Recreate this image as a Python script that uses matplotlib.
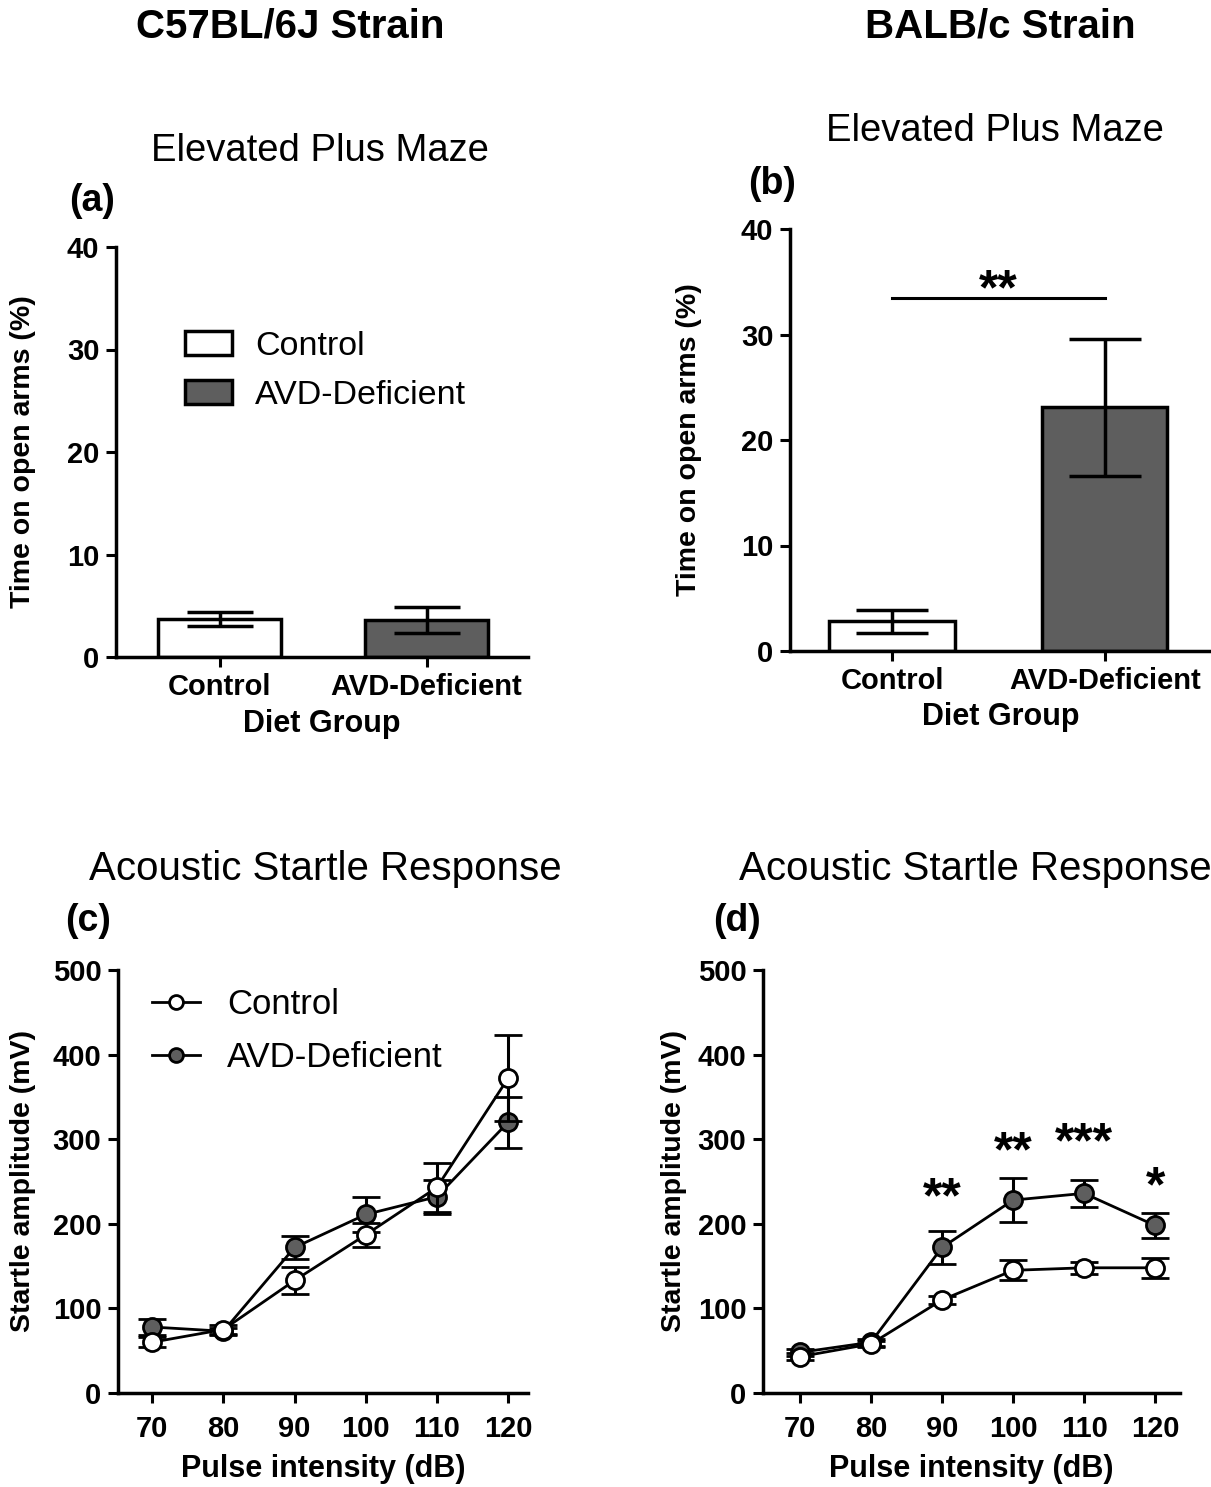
"""Recreate the four-panel EPM / startle figure (C57BL/6J vs BALB/c)."""

import numpy as np
import matplotlib
matplotlib.use('Agg')
import matplotlib.pyplot as plt
from matplotlib.lines import Line2D

plt.rcParams['font.family'] = ['Liberation Sans', 'DejaVu Sans']

# --- data -------------------------------------------------------------
groups = ['Control', 'AVD-Deficient']

# Elevated plus maze, time on open arms (%) : mean and SEM
epm_c57_mean = [3.7, 3.6]
epm_c57_sem = [0.7, 1.25]
epm_balb_mean = [2.8, 23.1]
epm_balb_sem = [1.05, 6.5]
epm_balb_sig_y = 33.5

# Acoustic startle, amplitude (mV)
pulse_db = [70, 80, 90, 100, 110, 120]
asr_c57_ctrl = [60, 75, 133, 187, 243, 372]
asr_c57_ctrl_err = [6, 5, 16, 14, 29, 51]
asr_c57_avd = [78, 73, 172, 211, 232, 320]
asr_c57_avd_err = [10, 4, 14, 21, 20, 30]
asr_balb_ctrl = [43, 58, 110, 145, 148, 148]
asr_balb_ctrl_err = [4, 4, 5, 12, 7, 12]
asr_balb_avd = [48, 60, 172, 228, 236, 198]
asr_balb_avd_err = [4, 4, 19, 26, 16, 15]
asr_balb_stars = ['', '', '**', '**', '***', '*']
asr_balb_star_y = [0, 0, 240, 295, 305, 254]

GRAY = '#5e5e5e'
TICK_FS = 21
YLAB_FS = 20.5
XLAB_FS = 22
STAR_FS = 36
W, H = 1211, 1487

fig = plt.figure(figsize=(W / 100, H / 100), dpi=100)


def style_axis(ax, xpad):
    for s in ['top', 'right']:
        ax.spines[s].set_visible(False)
    for s in ['left', 'bottom']:
        ax.spines[s].set_linewidth(2.5)
    ax.tick_params(direction='out', length=7.5, width=2.2, labelsize=TICK_FS)
    ax.tick_params(axis='y', pad=4.5)
    ax.tick_params(axis='x', pad=xpad)
    for lab in ax.get_xticklabels() + ax.get_yticklabels():
        lab.set_fontweight('bold')


def stars(ax, x, yc, s):
    # centre the asterisks vertically on yc
    ax.annotate(s, xy=(x, yc), xytext=(0, -0.455 * STAR_FS), textcoords='offset points',
                ha='center', va='baseline', fontsize=STAR_FS, fontweight='bold')


def bar_panel(rect, means, sems, xlim, capsize):
    ax = fig.add_axes(rect)
    x = np.arange(len(groups))
    ax.bar(x, means, width=0.59, color=['white', GRAY], edgecolor='black',
           linewidth=2.5, zorder=2)
    ax.errorbar(x, means, yerr=sems, fmt='none', ecolor='black', elinewidth=2.5,
                capsize=capsize, capthick=2.5, zorder=3)
    ax.set_xlim(*xlim)
    ax.set_ylim(0, 40)
    ax.set_yticks([0, 10, 20, 30, 40])
    ax.set_xticks(x)
    ax.set_xticklabels(groups)
    style_axis(ax, 4)
    ax.set_ylabel('Time on open arms (%)', fontsize=YLAB_FS, fontweight='bold')
    ax.set_xlabel('Diet Group', fontsize=XLAB_FS, fontweight='bold')
    return ax


def line_panel(rect, ctrl, ctrl_err, avd, avd_err, xlim):
    ax = fig.add_axes(rect)
    ax.errorbar(pulse_db, avd, yerr=avd_err, color='black', lw=2, marker='o',
                ms=13, mfc=GRAY, mec='black', mew=2, capsize=10, capthick=2.2,
                elinewidth=2.2, zorder=3)
    ax.errorbar(pulse_db, ctrl, yerr=ctrl_err, color='black', lw=2, marker='o',
                ms=13, mfc='white', mec='black', mew=2, capsize=10, capthick=2.2,
                elinewidth=2.2, zorder=4)
    ax.set_xlim(*xlim)
    ax.set_ylim(0, 500)
    ax.set_yticks([0, 100, 200, 300, 400, 500])
    ax.set_xticks(pulse_db)
    style_axis(ax, 8.5)
    ax.set_ylabel('Startle amplitude (mV)', fontsize=YLAB_FS, fontweight='bold')
    ax.set_xlabel('Pulse intensity (dB)', fontsize=XLAB_FS, fontweight='bold')
    return ax


# (a) C57 EPM
ax_a = bar_panel([116 / W, 1 - 657 / H, 412 / W, 410 / H], epm_c57_mean, epm_c57_sem,
                 (-0.5, 1.49), 24)
ax_a.yaxis.set_label_coords(-0.194, 0.5)
ax_a.xaxis.set_label_coords(0.5, -0.127)
ax_a.legend(handles=[plt.Rectangle((0, 0), 1, 1, fc='white', ec='black', lw=2.5),
                     plt.Rectangle((0, 0), 1, 1, fc=GRAY, ec='black', lw=2.5)],
            labels=groups, loc='upper left', bbox_to_anchor=(185 / W, 1 - 331 / H),
            bbox_transform=fig.transFigure, frameon=False, fontsize=24.5,
            borderpad=0, borderaxespad=0, handlelength=1.38, handleheight=0.7,
            handletextpad=0.68, labelspacing=0.52)

# (b) BALB/c EPM
ax_b = bar_panel([790 / W, 1 - 651 / H, 421 / W, 422 / H], epm_balb_mean, epm_balb_sem,
                 (-0.48, 1.5), 26)
ax_b.yaxis.set_label_coords(-0.209, 0.5)
ax_b.xaxis.set_label_coords(0.5, -0.121)
ax_b.plot([0, 1], [epm_balb_sig_y, epm_balb_sig_y], color='black', lw=2.2)
stars(ax_b, 0.5, 35.0, '**')

# (c) C57 startle
ax_c = line_panel([118 / W, 1 - 1393 / H, 410 / W, 423 / H], asr_c57_ctrl,
                  asr_c57_ctrl_err, asr_c57_avd, asr_c57_avd_err, (65.2, 122.8))
ax_c.yaxis.set_label_coords(-0.2, 0.5)
ax_c.xaxis.set_label_coords(0.5, -0.144)
leg_handles = [Line2D([], [], color='black', lw=2, marker='o', ms=10, mfc='white',
                      mec='black', mew=2),
               Line2D([], [], color='black', lw=2, marker='o', ms=10, mfc=GRAY,
                      mec='black', mew=2)]
ax_c.legend(leg_handles, groups, loc='upper left',
            bbox_to_anchor=(152 / W, 1 - 988 / H), bbox_transform=fig.transFigure,
            frameon=False, fontsize=25, borderpad=0, borderaxespad=0,
            handlelength=1.38, handletextpad=0.78, labelspacing=0.58)

# (d) BALB/c startle
ax_d = line_panel([763 / W, 1 - 1393 / H, 417 / W, 423 / H], asr_balb_ctrl,
                  asr_balb_ctrl_err, asr_balb_avd, asr_balb_avd_err, (64.8, 123.5))
ax_d.yaxis.set_label_coords(-0.182, 0.5)
ax_d.xaxis.set_label_coords(0.5, -0.144)
for xv, s, yv in zip(pulse_db, asr_balb_stars, asr_balb_star_y):
    if s:
        stars(ax_d, xv, yv, s)

# headings and panel titles
fig.text(290 / W, 1 - 27 / H, 'C57BL/6J Strain', ha='center', va='center',
         fontsize=29, fontweight='bold')
fig.text(1000 / W, 1 - 27 / H, 'BALB/c Strain', ha='center', va='center',
         fontsize=29, fontweight='bold')
fig.text(320 / W, 1 - 151 / H, 'Elevated Plus Maze', ha='center', va='center',
         fontsize=27.5)
fig.text(995 / W, 1 - 131 / H, 'Elevated Plus Maze', ha='center', va='center',
         fontsize=27.5)
fig.text(325 / W, 1 - 869 / H, 'Acoustic Startle Response', ha='center',
         va='center', fontsize=29)
fig.text(975 / W, 1 - 869 / H, 'Acoustic Startle Response', ha='center',
         va='center', fontsize=29)
for lab, px, py in [('(a)', 92, 201), ('(b)', 772, 184), ('(c)', 88, 921),
                    ('(d)', 737, 921)]:
    fig.text(px / W, 1 - py / H, lab, ha='center', va='center',
             fontsize=27, fontweight='bold')

fig.savefig('out.png', dpi=100)
